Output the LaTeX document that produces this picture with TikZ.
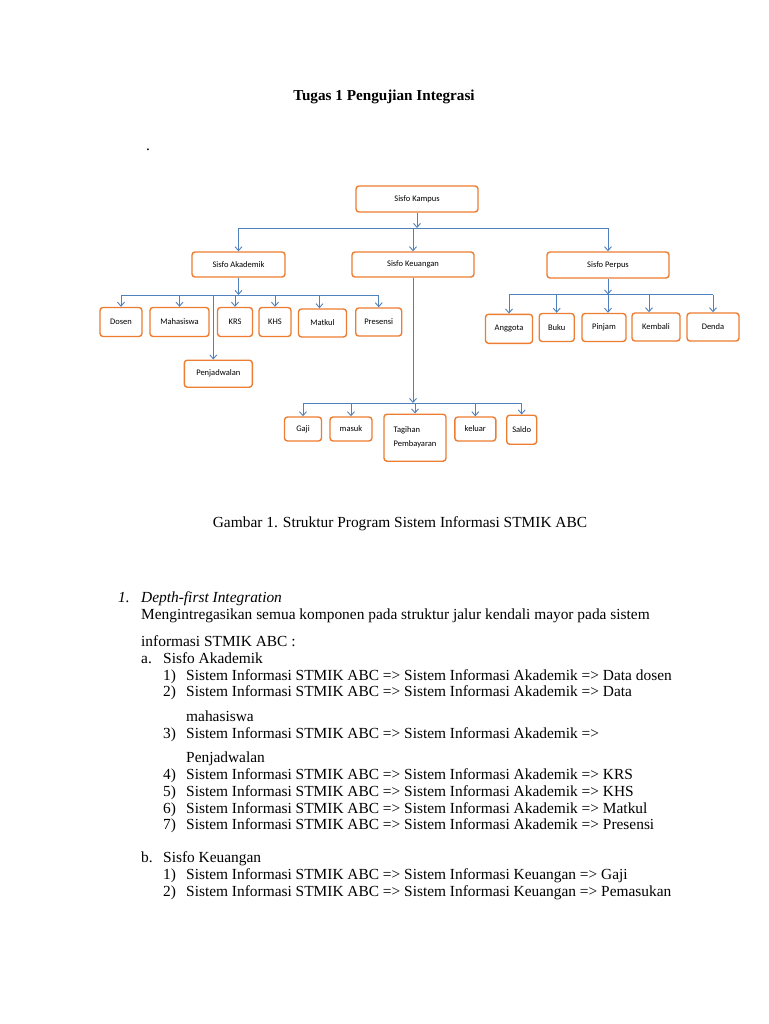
\documentclass[tikz,border=0pt]{standalone}
\usepackage{fontspec}
\setmainfont{Liberation Serif}
\newfontfamily\boxfont{Carlito}
\usetikzlibrary{arrows.meta}
\definecolor{boxorange}{HTML}{ED7D31}
\definecolor{linkblue}{HTML}{4F81BD}
\begin{document}
\begin{tikzpicture}[x=1pt,y=-1pt,
  box/.style={draw=boxorange, line width=1.4pt, rounded corners=3pt, fill=white,
    inner sep=0pt, font=\boxfont\fontsize{8.5}{14}\selectfont},
  link/.style={draw=linkblue, line width=0.9pt},
  arr/.style={link, -{Straight Barb[length=4pt,width=7pt]}},
  txt/.style={anchor=base west, inner sep=0pt, font=\fontsize{15.4}{18}\selectfont},
]
\useasboundingbox[fill=white] (0,0) rectangle (768,1024);

% title
\node[anchor=base, inner sep=0pt, font=\bfseries\fontsize{15.2}{18}\selectfont] (title) at (384,101) {Tugas 1 Pengujian Integrasi};
\node[anchor=base west, inner sep=0pt, font=\fontsize{15.4}{18}\selectfont] (dot) at (146,151) {.};

% boxes
\node[box, minimum width=122pt, minimum height=26pt] (kampus) at (417,199) {Sisfo Kampus};
\node[box, minimum width=93pt, minimum height=25pt] (akad) at (238.5,264.5) {Sisfo Akademik};
\node[box, minimum width=122pt, minimum height=25pt] (keu) at (413,264.5) {Sisfo Keuangan};
\node[box, minimum width=122pt, minimum height=26pt] (perpus) at (608,265) {Sisfo Perpus};

\node[box, minimum width=42pt, minimum height=29pt] (dosen) at (121,322) {Dosen};
\node[box, minimum width=59pt, minimum height=29pt] (mhs) at (179.5,322) {Mahasiswa};
\node[box, minimum width=35pt, minimum height=29pt] (krs) at (235,322) {KRS};
\node[box, minimum width=32pt, minimum height=29pt] (khs) at (275,322) {KHS};
\node[box, minimum width=48pt, minimum height=28pt] (matkul) at (322.5,323) {Matkul};
\node[box, minimum width=46pt, minimum height=28pt] (presensi) at (378.7,322) {Presensi};
\node[box, minimum width=68pt, minimum height=27pt] (penj) at (218.3,373.7) {Penjadwalan};

\node[box, minimum width=37pt, minimum height=24pt] (gaji) at (303,429) {Gaji};
\node[box, minimum width=42pt, minimum height=24pt] (masuk) at (351,429) {masuk};
\node[box, minimum width=62pt, minimum height=47pt, align=left] (tagihan) at (415,437.7) {Tagihan\\Pembayaran};
\node[box, minimum width=41pt, minimum height=24pt] (keluar) at (475.3,429) {keluar};
\node[box, minimum width=30pt, minimum height=29pt] (saldo) at (521.7,429.7) {Saldo};

\node[box, minimum width=47pt, minimum height=29pt] (anggota) at (509,328.8) {Anggota};
\node[box, minimum width=35pt, minimum height=28pt] (buku) at (556.7,327.5) {Buku};
\node[box, minimum width=44pt, minimum height=28pt] (pinjam) at (604,327.5) {Pinjam};
\node[box, minimum width=48pt, minimum height=28pt] (kembali) at (656,327) {Kembali};
\node[box, minimum width=52pt, minimum height=28pt] (denda) at (713,327) {Denda};

% bus coordinates
\coordinate (busK) at (0,228);
\coordinate (busA) at (0,295);
\coordinate (busP) at (0,294.5);
\coordinate (busU) at (0,403);

% top level
\draw[arr] (kampus.south) -- (kampus.south |- busK);
\draw[link] (akad.north |- busK) -- (perpus.north |- busK);
\draw[arr] (akad.north |- busK) -- (akad.north);
\draw[arr] (keu.north |- busK) -- (keu.north);
\draw[arr] (perpus.north |- busK) -- (perpus.north);

% akademik
\draw[arr] (akad.south) -- (akad.south |- busA);
\draw[link] (dosen.north |- busA) -- (presensi.north |- busA);
\draw[arr] (dosen.north |- busA) -- (dosen.north);
\draw[arr] (mhs.north |- busA) -- (mhs.north);
\draw[arr] (krs.north |- busA) -- (krs.north);
\draw[arr] (khs.north |- busA) -- (khs.north);
\draw[arr] ([xshift=-3pt]matkul.north |- busA) -- ([xshift=-3pt]matkul.north);
\draw[arr] (presensi.north |- busA) -- (presensi.north);
\draw[arr] ([xshift=-5pt]penj.north |- busA) -- ([xshift=-5pt]penj.north);

% keuangan
\draw[arr] (keu.south) -- (keu.south |- busU);
\draw[link] (gaji.north |- busU) -- (saldo.north |- busU);
\draw[arr] (gaji.north |- busU) -- (gaji.north);
\draw[arr] (masuk.north |- busU) -- (masuk.north);
\draw[arr] (tagihan.north |- busU) -- (tagihan.north);
\draw[arr] (keluar.north |- busU) -- (keluar.north);
\draw[arr] (saldo.north |- busU) -- (saldo.north);

% perpus
\draw[arr] (perpus.south) -- (perpus.south |- busP);
\draw[link] (anggota.north |- busP) -- (denda.north |- busP);
\draw[arr] (anggota.north |- busP) -- (anggota.north);
\draw[arr] (buku.north |- busP) -- (buku.north);
\draw[arr] ([xshift=4pt]pinjam.north |- busP) -- ([xshift=4pt]pinjam.north);
\draw[arr] ([xshift=-7pt]kembali.north |- busP) -- ([xshift=-7pt]kembali.north);
\draw[arr] (denda.north |- busP) -- (denda.north);

% caption
\node[anchor=base, inner sep=0pt, font=\fontsize{15.4}{18}\selectfont] (caption) at (400,527) {Gambar 1. Struktur Program Sistem Informasi STMIK ABC};

% text
\node[txt] (n1) at (118,602) {\textit{1.}};
\node[txt] (h1) at (141,602) {\textit{Depth-first Integration}};
\node[txt] (p1) at (141,619) {Mengintregasikan semua komponen pada struktur jalur kendali mayor pada sistem};
\node[txt] (p2) at (141,646) {informasi STMIK ABC :};
\node[txt] (la) at (141,663) {a.};
\node[txt] (ha) at (163,663) {Sisfo Akademik};
\node[txt] (a1n) at (163,680) {1)};
\node[txt] (a1) at (186,680) {Sistem Informasi STMIK ABC => Sistem Informasi Akademik => Data dosen};
\node[txt] (a2n) at (163,696) {2)};
\node[txt] (a2) at (186,696) {Sistem Informasi STMIK ABC => Sistem Informasi Akademik => Data};
\node[txt] (a2b) at (186,721) {mahasiswa};
\node[txt] (a3n) at (163,738) {3)};
\node[txt] (a3) at (186,738) {Sistem Informasi STMIK ABC => Sistem Informasi Akademik =>};
\node[txt] (a3b) at (186,762) {Penjadwalan};
\node[txt] (a4n) at (163,779) {4)};
\node[txt] (a4) at (186,779) {Sistem Informasi STMIK ABC => Sistem Informasi Akademik => KRS};
\node[txt] (a5n) at (163,796) {5)};
\node[txt] (a5) at (186,796) {Sistem Informasi STMIK ABC => Sistem Informasi Akademik => KHS};
\node[txt] (a6n) at (163,813) {6)};
\node[txt] (a6) at (186,813) {Sistem Informasi STMIK ABC => Sistem Informasi Akademik => Matkul};
\node[txt] (a7n) at (163,829) {7)};
\node[txt] (a7) at (186,829) {Sistem Informasi STMIK ABC => Sistem Informasi Akademik => Presensi};
\node[txt] (lb) at (141,862) {b.};
\node[txt] (hb) at (163,862) {Sisfo Keuangan};
\node[txt] (b1n) at (163,879) {1)};
\node[txt] (b1) at (186,879) {Sistem Informasi STMIK ABC => Sistem Informasi Keuangan => Gaji};
\node[txt] (b2n) at (163,896) {2)};
\node[txt] (b2) at (186,896) {Sistem Informasi STMIK ABC => Sistem Informasi Keuangan => Pemasukan};
\end{tikzpicture}
\end{document}
